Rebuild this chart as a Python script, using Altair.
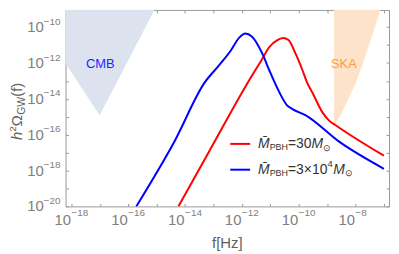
import altair as alt
import pandas as pd

# ---- data (log10 values) ----
red_logf = [-14.235, -13.15, -11.80, -11.28, -11.04, -10.72, -10.55, -10.36, -10.11, -9.87, -9.70, -9.52, -9.17, -8.94, -8.70, -7.0]
red_logo = [-20.0, -16.92, -13.11, -11.76, -11.12, -10.70, -10.60, -10.72, -11.48, -12.39, -13.11, -13.65, -14.74, -15.20, -15.47, -17.17]
blue_logf = [-15.72, -14.375, -13.32, -12.80, -12.39, -12.10, -11.88, -11.65, -11.28, -11.04, -10.68, -10.41, -10.22, -9.75, -8.59, -7.0]
blue_logo = [-20.0, -16.375, -13.11, -12.12, -11.30, -10.60, -10.36, -10.52, -11.48, -12.39, -13.64, -14.36, -14.57, -14.92, -16.375, -17.90]
cmb_logf = [-18.5, -17.01, -14.9]
cmb_logo = [-11.33, -14.92, -8.5]
ska_logf = [-8.76, -8.69, -8.47, -7.99, -7.74, -7.12, -7.01]
ska_logo = [-15.45, -15.34, -14.74, -13.11, -12.03, -9.04, -8.5]
region_top = -8.5
x_exps = list(range(-18, -6))
y_exps = list(range(-20, -9))
x_label_exps = [-18, -16, -14, -12, -10, -8]
y_label_exps = [-20, -18, -16, -14, -12, -10]
series_names = ["red", "blue"]

W, H = 326, 198
FONT = "Liberation Sans"
GREY = "#808080"
TGREY = "#606060"

curves = pd.DataFrame(
    [{"series": "red", "f": 10 ** a, "o": 10 ** b, "i": k} for k, (a, b) in enumerate(zip(red_logf, red_logo))]
    + [{"series": "blue", "f": 10 ** a, "o": 10 ** b, "i": k} for k, (a, b) in enumerate(zip(blue_logf, blue_logo))]
)
cmb = pd.DataFrame({"f": [10 ** a for a in cmb_logf], "lo": [10 ** b for b in cmb_logo], "hi": [10 ** region_top] * len(cmb_logf)})
ska = pd.DataFrame({"f": [10 ** a for a in ska_logf], "lo": [10 ** b for b in ska_logo], "hi": [10 ** region_top] * len(ska_logf)})

xscale = alt.Scale(type="log", domain=[10 ** -18.21, 10 ** -6.82], nice=False)
yscale = alt.Scale(type="log", domain=[1e-20, 10 ** -9.04], nice=False)

tick_common = dict(labels=False, domain=False, grid=False, ticks=True, tickSize=3,
                   tickColor="#9a9a9a", tickWidth=1, title=None, offset=-3)
ax_bottom = alt.Axis(orient="bottom", values=[10.0 ** e for e in x_exps], **tick_common)
ax_top = alt.Axis(orient="top", values=[10.0 ** e for e in x_exps], **tick_common)
ax_left = alt.Axis(orient="left", values=[10.0 ** e for e in y_exps], **tick_common)
ax_right = alt.Axis(orient="right", values=[10.0 ** e for e in y_exps], **tick_common)

cmb_area = alt.Chart(cmb).mark_area(color="#dde3ee", clip=True).encode(
    x=alt.X("f:Q", scale=xscale, axis=ax_top),
    y=alt.Y("lo:Q", scale=yscale, axis=ax_right),
    y2="hi:Q",
)
ska_area = alt.Chart(ska).mark_area(color="#fde3c9", clip=True).encode(
    x=alt.X("f:Q", scale=xscale, axis=None),
    y=alt.Y("lo:Q", scale=yscale, axis=None),
    y2="hi:Q",
)
lines = alt.Chart(curves).mark_line(strokeWidth=2, interpolate="monotone", clip=True).encode(
    x=alt.X("f:Q", scale=xscale, axis=ax_bottom),
    y=alt.Y("o:Q", scale=yscale, axis=ax_left),
    color=alt.Color("series:N", scale=alt.Scale(domain=series_names, range=["#ff0000", "#0000ff"]), legend=None),
    detail="series:N",
    order="i:Q",
)

region_labels = pd.DataFrame({"f": [10 ** -16.99, 10 ** -8.41], "o": [10 ** -12.03, 10 ** -12.03],
                              "t": ["CMB", "SKA"], "c": ["#2222ff", "#ff9a40"]})
region_text = alt.Chart(region_labels).mark_text(font=FONT, fontSize=13, align="center", baseline="middle").encode(
    x=alt.X("f:Q", scale=xscale, axis=None),
    y=alt.Y("o:Q", scale=yscale, axis=None),
    text="t:N",
    color=alt.Color("c:N", scale=None),
)

# tick labels
xl = pd.DataFrame({"v": [10.0 ** e for e in x_label_exps], "e": ["\u2212" + str(-e) for e in x_label_exps]})
yl = pd.DataFrame({"v": [10.0 ** e for e in y_label_exps], "e": ["\u2212" + str(-e) for e in y_label_exps]})
x_ten = alt.Chart(xl).mark_text(font=FONT, fontSize=15, align="right", baseline="middle", color=GREY, dx=-0.5).encode(
    x=alt.X("v:Q", scale=xscale, axis=None), y=alt.value(H + 13.5), text=alt.value("10"))
x_exp = alt.Chart(xl).mark_text(font=FONT, fontSize=10, align="left", baseline="middle", color=GREY, dx=0).encode(
    x=alt.X("v:Q", scale=xscale, axis=None), y=alt.value(H + 6.5), text="e:N")
y_ten = alt.Chart(yl).mark_text(font=FONT, fontSize=15, align="right", baseline="middle", color=GREY).encode(
    y=alt.Y("v:Q", scale=yscale, axis=None), x=alt.value(-22), text=alt.value("10"))
y_exp = alt.Chart(yl).mark_text(font=FONT, fontSize=10, align="right", baseline="middle", color=GREY, dy=-5.5).encode(
    y=alt.Y("v:Q", scale=yscale, axis=None), x=alt.value(-5), text="e:N")

one = pd.DataFrame({"a": [0]})


def piece(txt, x, y, size, italic=False, color=TGREY, angle=0, baseline="middle", align="left"):
    kw = dict(font=FONT, fontSize=size, align=align, baseline=baseline, color=color)
    if italic:
        kw["fontStyle"] = "italic"
    if angle:
        kw["angle"] = angle
    return alt.Chart(one).mark_text(**kw).encode(x=alt.value(x), y=alt.value(y), text=alt.value(txt))


# axis titles
TX = -44
titles = [
    piece("f[Hz]", 163, 235, 15, align="center"),
    piece("h", TX, 131, 15, italic=True, angle=270, baseline="alphabetic"),
    piece("2", TX - 6, 122.7, 10, angle=270, baseline="alphabetic"),
    piece("\u03a9", TX, 117.1, 15, angle=270, baseline="alphabetic"),
    piece("GW", TX + 3, 105.6, 10.5, angle=270, baseline="alphabetic"),
    piece("(f)", TX, 87.5, 15, angle=270, baseline="alphabetic"),
]

# legend
LC = "#333333"
legend = []
for row_y, col, mid in [(135, "#ff0000", "=30"), (161, "#0000ff", "=3\u00d710")]:
    legend.append(alt.Chart(one).mark_rule(color=col, strokeWidth=2).encode(
        x=alt.value(166), x2=alt.value(186), y=alt.value(row_y)))
    x0 = 194
    legend.append(piece("M\u0304", x0, row_y, 14, italic=True, color=LC))
    legend.append(piece("PBH", x0 + 11.7, row_y + 3, 9, color=LC))
    x1 = x0 + 11.7 + 18.5
    legend.append(piece(mid, x1, row_y, 14, color=LC))
    if mid == "=30":
        x2 = x1 + 23.7
    else:
        x2 = x1 + 39.7
        legend.append(piece("4", x2, row_y - 5.5, 9.5, color=LC))
        x2 += 5.8
    legend.append(piece("M", x2, row_y, 14, italic=True, color=LC))
    legend.append(piece("\u2299", x2 + 11.8, row_y + 3.8, 9, color=LC))

chart = alt.layer(
    cmb_area, ska_area, lines, region_text, x_ten, x_exp, y_ten, y_exp, *titles, *legend
).properties(
    width=W, height=H,
    autosize=alt.AutoSizeParams(type="none"),
    padding={"left": 58, "top": 1, "right": 2, "bottom": 46},
).configure_view(stroke="#9a9a9a", strokeWidth=1)

chart.save("out.html", embed_options={"renderer": "svg", "actions": False})
